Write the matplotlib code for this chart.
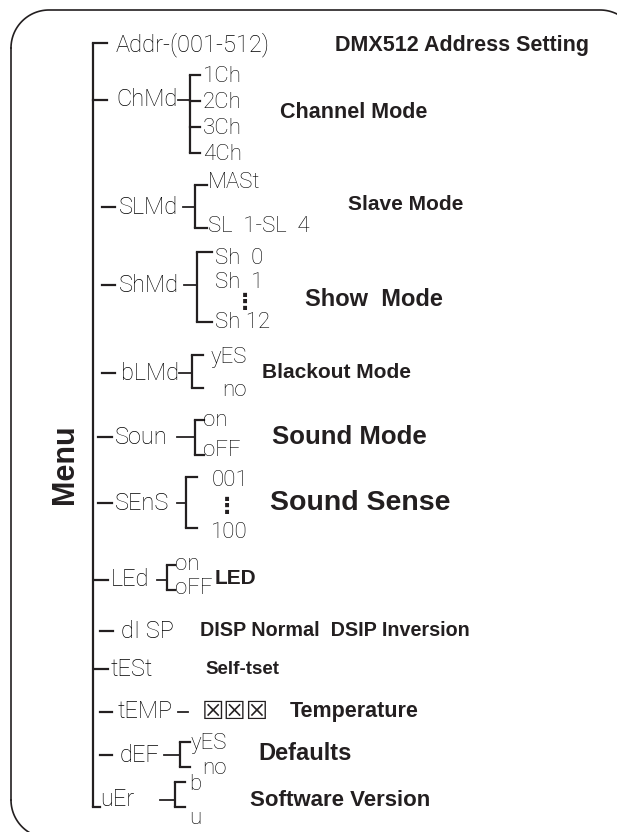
import numpy as np
import matplotlib.pyplot as plt

ink = '#231f20'
lcd_ink = '#000000'
lcd_font = ['Roboto', 'DejaVu Sans']
label_font = ['Liberation Sans', 'DejaVu Sans']

# menu content
menu_codes = ['Addr-(001-512)', 'ChMd', 'SLMd', 'ShMd', 'bLMd', 'Soun', 'SEnS',
              'LEd', 'dI SP', 'tESt', 'tEMP', 'dEF', 'uEr']
menu_options = [[], ['1Ch', '2Ch', '3Ch', '4Ch'], ['MASt', 'SL  1-SL  4'],
                ['Sh  0', 'Sh  1', '⋮', 'Sh 12'], ['yES', 'no'], ['on', 'oFF'],
                ['001', '⋮', '100'], ['on', 'oFF'], [], [], ['☒☒☒'],
                ['yES', 'no'], ['b', 'u']]
menu_notes = ['DMX512 Address Setting', 'Channel Mode', 'Slave Mode', 'Show  Mode',
              'Blackout Mode', 'Sound Mode', 'Sound Sense', 'LED',
              'DISP Normal  DSIP Inversion', 'Self-tset', 'Temperature',
              'Defaults', 'Software Version']

# layout in pixels (y down)
row_y = [45, 100, 207, 285, 373, 437, 503, 580, 631, 669, 712, 755, 800]
code_x = [116, 116, 119, 119, 121, 115, 115, 111, 121, 111, 118, 120, 100]
lead_dash = [None, None, (102, 115), (102, 115), (102, 115), (98, 112), (98, 112),
             (95, 108), (100, 113), (95, 108), (100, 112), (100, 112), None]
tail_dash = [None, (178, 190), (183, 195), (184, 197), (179, 192), (177, 195),
             (177, 186), (157, 167), None, None, (178, 188), (164, 180), (160, 175)]
brackets = {1: (190, 75, 153, 200, True), 2: (195, 185, 228, 207, False),
            3: (197, 252, 322, 212, False), 4: (192, 355, 388, 203, False),
            5: (195, 420, 455, 204, False), 6: (186, 477, 528, 197, False),
            7: (167, 565, 590, 175, False), 11: (180, 742, 767, 190, False),
            12: (175, 782, 807, 185, False)}
opt_place = {1: (203, 'left', [77, 102, 128, 154]),
             2: (208, 'left', [182, 226]),
             3: (215, 'left', [258, 283, 303, 322]),
             4: (247, 'right', [358, 390]),
             5: (203, 'left', [420, 451]),
             6: (248, 'right', [480, 507, 533]),
             7: (175, 'left', [564, 588]),
             10: (202, 'left', [712]),
             11: (227, 'right', [744, 769]),
             12: (189, 'left', [784, 818])}
dots_x = {3: 245, 6: 227}
note_place = [(335, 45, 15.5), (280, 113, 15.5), (348, 204, 15), (305, 300, 17),
              (262, 373, 15), (272, 437, 18.5), (270, 503, 20.5), (215, 578, 15),
              (200, 631, 14.2), (205, 669, 13.5), (290, 712, 15.5), (258, 753, 17),
              (250, 800, 16)]

fig = plt.figure(figsize=(6.17, 8.32), dpi=100)
ax = fig.add_axes([0, 0, 1, 1])
ax.set_xlim(0, 617)
ax.set_ylim(832, 0)
ax.axis('off')

# outer rounded frame (right and bottom edges run off the page)
r = 38
t = np.linspace(0, np.pi / 2, 40)
fx = np.concatenate([11 + r - r * np.cos(t), 600 + r * np.sin(t)])
fy = np.concatenate([10 + r - r * np.sin(t), 10 + r - r * np.cos(t)])
ax.plot(fx, fy, color=ink, lw=1.2)
ax.plot([11, 11], [10 + r, 800], color=ink, lw=1.2)
ax.plot(11 + r - r * np.cos(t), 800 + r * np.sin(t), color=ink, lw=1.2)

lw = 1.6
# spine
ax.plot([93, 93], [43, 807], color=ink, lw=lw, solid_capstyle='butt')
ax.plot([92.5, 107], [43, 43], color=ink, lw=lw)
ax.plot([93, 107], [100, 100], color=ink, lw=lw)
ax.plot([92.5, 100], [807, 807], color=ink, lw=lw)

for i, code in enumerate(menu_codes):
    y = row_y[i]
    ax.text(code_x[i], y, code, family=lcd_font, fontweight='light', fontsize=17,
            color=lcd_ink, ha='left', va='center')
    if lead_dash[i]:
        ax.plot(lead_dash[i], [y, y], color=ink, lw=lw)
    if tail_dash[i]:
        ax.plot(tail_dash[i], [y, y], color=ink, lw=lw * 0.8)
    if i in brackets:
        bx, top, bot, tx, all_ticks = brackets[i]
        ax.plot([bx, bx], [top, bot], color=ink, lw=lw, solid_capstyle='butt')
        ticks = [top, bot]
        if all_ticks:
            ticks += [oy - 1 for oy in opt_place[i][2][1:-1]]
        for ty in ticks:
            ax.plot([bx, tx], [ty, ty], color=ink, lw=lw)
    if i in opt_place:
        ox, ha, ys = opt_place[i]
        for opt, oy in zip(menu_options[i], ys):
            if opt == '⋮':
                ax.text(dots_x[i], oy, '⋮', family=['DejaVu Sans'], fontsize=16,
                        fontweight='bold', color=ink, ha='center', va='center')
            elif opt.startswith('☒'):
                ax.text(ox, oy, opt, family=['DejaVu Sans'], fontsize=18,
                        color=ink, ha='left', va='center')
            else:
                ax.text(ox, oy, opt, family=lcd_font, fontweight='light', fontsize=16,
                        color=lcd_ink, ha=ha, va='center')
    nx, ny, ns = note_place[i]
    ax.text(nx, ny, menu_notes[i], family=label_font, fontweight='bold', fontsize=ns,
            color=ink, ha='left', va='center')

ax.text(65, 464, 'Menu', family=label_font, fontweight='bold', fontsize=22,
        rotation=90, color=ink, ha='center', va='center')

fig.savefig('out.png', dpi=100)
